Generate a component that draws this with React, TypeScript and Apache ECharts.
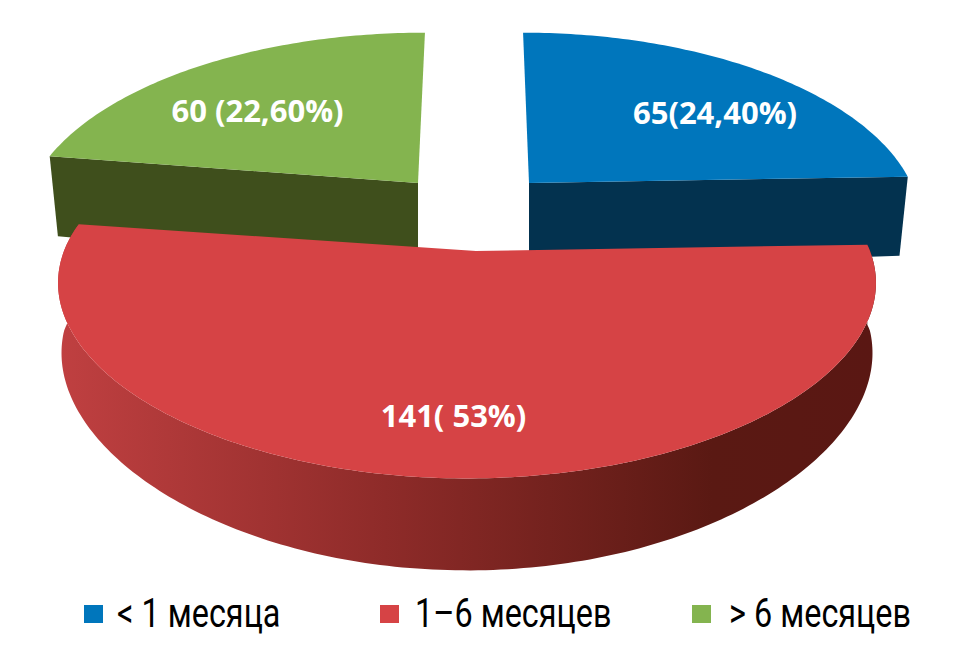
import React, { useEffect, useRef } from "react";
import * as echarts from "echarts";

const categories = ["< 1 месяца", "1–6 месяцев", "> 6 месяцев"];
const values = [65, 141, 60];
const labels = ["65(24,40%)", "141( 53%)", "60 (22,60%)"];
const topColors = ["#0076BC", "#D64345", "#84B44F"];
const wallColors = ["#03324F", "", "#3F4F1C"];
const legendIconLefts = [84, 380, 692];
const legendTextLefts = [117, 415, 729];

const total = values.reduce((a, b) => a + b, 0);
const PERSPECTIVE = 0.204;
const RY = 181;

const sliceLayout = [
  { axisX: 494, offsetX: 35, apexDx: 0, y: 183, rx: 382, kx: 0.204, wallScale: 0.98, frontTaper: 0, depth: 79, z: 1, lx: 715, ly: 112 },
  { axisX: 467, offsetX: 0, apexDx: 9, y: 251, rx: 403, kx: 0.17, wallScale: 1, frontTaper: 0.06, depth: 80, z: 3, lx: 453.5, ly: 415 },
  { axisX: 459, offsetX: -41, apexDx: 0, y: 183, rx: 385.6, kx: 0.204, wallScale: 0.98, frontTaper: 0, depth: 80, z: 2, lx: 257.5, ly: 110 },
];

function renderSlice(index: number) {
  const before = values.slice(0, index).reduce((a, b) => a + b, 0);
  const L = sliceLayout[index];
  const start = (before / total) * 2 * Math.PI;
  const end = ((before + values[index]) / total) * 2 * Math.PI;
  const project = (t: number, bottom = false): number[] => {
    const u = Math.sin(t);
    const v = Math.cos(t);
    const sy = 1 / (1 + PERSPECTIVE * v);
    const sx = 1 / (1 + L.kx * v);
    const x = L.axisX + (L.offsetX + u * L.rx) * sx;
    const y = L.y - RY * v * sy;
    if (!bottom) return [x, y];
    const d = L.depth + (v < 0 ? -v * 12 : 0);
    const w = L.wallScale * (1 - L.frontTaper * Math.max(0, -v));
    return [L.axisX + (x - L.axisX) * w, y + d];
  };
  const steps = Math.max(2, Math.round((end - start) * 60));
  const angles: number[] = [];
  for (let i = 0; i <= steps; i++) angles.push(start + ((end - start) * i) / steps);
  const apex = [L.axisX + L.offsetX + L.apexDx, L.y];
  const topArc = angles.map((a) => project(a));
  const children: any[] = [];
  if (index === 1) {
    const wall = [...topArc, ...angles.map((a) => project(a, true)).reverse()];
    children.push({
      type: "polygon",
      shape: { points: wall },
      style: {
        fill: new echarts.graphic.LinearGradient(0, 0, 1, 0, [
          { offset: 0, color: "#C04041" },
          { offset: 0.4, color: "#8E2B29" },
          { offset: 0.8, color: "#5A1913" },
          { offset: 1, color: "#5A1713" },
        ]),
      },
    });
  } else {
    const outer = index === 0 ? end : start;
    const p = project(outer);
    const pb = project(outer, true);
    children.push({
      type: "polygon",
      shape: { points: [apex, p, pb, [apex[0], apex[1] + 86]] },
      style: { fill: wallColors[index] },
    });
  }
  children.push({
    type: "polygon",
    shape: { points: [apex, ...topArc] },
    style: { fill: topColors[index] },
  });
  children.push({
    type: "text",
    x: L.lx,
    y: L.ly,
    style: {
      text: labels[index],
      fill: "#FFFFFF",
      font: 'bold 31px "Open Sans"',
      textAlign: "center",
      textVerticalAlign: "middle",
    },
  });
  return { type: "group", children };
}

export default function App() {
  const ref = useRef<HTMLDivElement>(null);
  useEffect(() => {
    const chart = echarts.init(ref.current!, undefined, { renderer: "svg" });
    chart.setOption({
      animation: false,
      backgroundColor: "#FFFFFF",
      legend: categories.map((name, i) => ({
        left: legendIconLefts[i],
        top: 605,
        padding: 0,
        icon: "rect",
        itemWidth: 19,
        itemHeight: 18,
        formatter: () => "",
        data: [{ name, itemStyle: { color: topColors[i] } }],
      })),
      graphic: categories.map((name, i) => ({
        type: "text",
        x: legendTextLefts[i],
        y: 613,
        scaleX: 0.79,
        style: {
          text: name,
          fill: "#000000",
          font: '41px Roboto',
          textAlign: "left",
          textVerticalAlign: "middle",
        },
      })),
      series: categories.map((name, i) => ({
        type: "custom",
        name,
        coordinateSystem: "none",
        z: sliceLayout[i].z,
        itemStyle: { color: topColors[i] },
        data: [[values[i]]],
        renderItem: () => renderSlice(i),
      })),
    });
    return () => chart.dispose();
  }, []);
  return <div ref={ref} style={{ position: "fixed", left: 0, top: 0, width: 969, height: 663 }} />;
}
